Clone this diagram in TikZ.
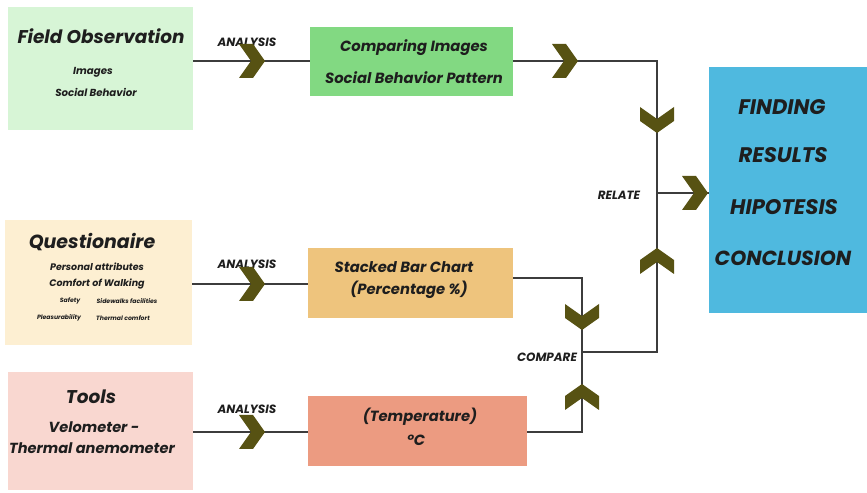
\documentclass[tikz,border=0pt]{standalone}
\usepackage{fontspec}
\setmainfont{Poppins}
\usepackage{xcolor}
\usetikzlibrary{positioning}

\definecolor{fieldgreen}{HTML}{D7F5D6}
\definecolor{compgreen}{HTML}{82D982}
\definecolor{questcream}{HTML}{FDEFD2}
\definecolor{chartorange}{HTML}{EEC47D}
\definecolor{toolpink}{HTML}{F9D7D0}
\definecolor{tempsalmon}{HTML}{EC9B81}
\definecolor{findblue}{HTML}{4FB9DF}
\definecolor{chevcol}{HTML}{575213}
\definecolor{linecol}{HTML}{3C3C3C}
\definecolor{textcol}{HTML}{1E1E1E}

\tikzset{
  chev/.pic={\fill[chevcol] (-26,-17) -- (-12,-17) -- (0,0) -- (-12,17) -- (-26,17) -- (-14,0) -- cycle;}
}

\begin{document}
\begin{tikzpicture}[x=0.02cm, y=-0.02cm,
    box/.style={rectangle, inner sep=0pt},
    txt/.style={inner sep=0pt, text=textcol},
    conn/.style={draw=linecol, line width=1pt}]
\useasboundingbox (0,0) rectangle (867,493);

% boxes
\node[box, fill=fieldgreen, minimum width=3.7cm, minimum height=2.46cm] (fo) at (100.5,68.5) {};
\node[box, fill=questcream, minimum width=3.74cm, minimum height=2.5cm] (qs) at (98.5,282.5) {};
\node[box, fill=toolpink, minimum width=3.7cm, minimum height=2.36cm] (tl) at (100.5,431) {};
\node[box, fill=compgreen, minimum width=4.06cm, minimum height=1.4cm] (cmp) at (411.5,61.5) {};
\node[box, fill=chartorange, minimum width=4.1cm, minimum height=1.42cm] (sbc) at (410.5,283) {};
\node[box, fill=tempsalmon, minimum width=4.38cm, minimum height=1.4cm] (tmp) at (417.5,431) {};
\node[box, fill=findblue, minimum width=3.16cm, minimum height=4.92cm] (fnd) at (788,190) {};

% texts
\node[txt, font=\bfseries\itshape\fontsize{10.5}{12}\selectfont] (fot) at (101,36) {Field Observation};
\node[txt, font=\bfseries\itshape\fontsize{5.8}{8}\selectfont] (foa) at (93,72) {Images};
\node[txt, font=\bfseries\itshape\fontsize{5.8}{8}\selectfont] (fob) at (96,92) {Social Behavior};

\node[txt, font=\bfseries\itshape\fontsize{10.8}{12}\selectfont] (qst) at (92,242) {Questionaire};
\node[txt, font=\bfseries\itshape\fontsize{5.4}{7}\selectfont] (qsa) at (97,267) {Personal attributes};
\node[txt, font=\bfseries\itshape\fontsize{5.4}{7}\selectfont] (qsb) at (97,284) {Comfort of Walking};
\node[txt, font=\bfseries\itshape\fontsize{3.5}{5}\selectfont] (qsc) at (70,301) {Safety};
\node[txt, font=\bfseries\itshape\fontsize{3.5}{5}\selectfont] (qsd) at (127,301) {Sidewalks facilities};
\node[txt, font=\bfseries\itshape\fontsize{3.5}{5}\selectfont] (qse) at (59,318) {Pleasurability};
\node[txt, font=\bfseries\itshape\fontsize{3.5}{5}\selectfont] (qsf) at (123,318) {Thermal comfort};

\node[txt, font=\bfseries\itshape\fontsize{10.5}{13}\selectfont] (tlt) at (91,397) {Tools};
\node[txt, font=\bfseries\itshape\fontsize{8.3}{10}\selectfont] (tla) at (94,427) {Velometer -};
\node[txt, font=\bfseries\itshape\fontsize{8.3}{10}\selectfont] (tlb) at (92,448) {Thermal anemometer};

\node[txt, font=\bfseries\itshape\fontsize{8.4}{10}\selectfont] (cmpa) at (414,48) {Comparing Images};
\node[txt, font=\bfseries\itshape\fontsize{8.4}{10}\selectfont] (cmpb) at (414,78) {Social Behavior Pattern};
\node[txt, font=\bfseries\itshape\fontsize{8.4}{10}\selectfont] (sbca) at (404,267) {Stacked Bar Chart};
\node[txt, font=\bfseries\itshape\fontsize{8.4}{10}\selectfont] (sbcb) at (409,290) {(Percentage \%)};
\node[txt, font=\bfseries\itshape\fontsize{8.4}{10}\selectfont] (tmpa) at (420,417) {(Temperature)};
\node[txt, font=\bfseries\itshape\fontsize{8.4}{10}\selectfont] (tmpb) at (416,440) {°C};

\node[txt, font=\bfseries\itshape\fontsize{12}{13}\selectfont] (fnda) at (782,107) {FINDING};
\node[txt, font=\bfseries\itshape\fontsize{12}{13}\selectfont] (fndb) at (783,155) {RESULTS};
\node[txt, font=\bfseries\itshape\fontsize{12}{13}\selectfont] (fndc) at (784,207) {HIPOTESIS};
\node[txt, font=\bfseries\itshape\fontsize{11.6}{13}\selectfont] (fndd) at (783,258) {CONCLUSION};

\node[txt, font=\bfseries\itshape\fontsize{6.8}{7}\selectfont] (an1) at (247,42) {ANALYSIS};
\node[txt, font=\bfseries\itshape\fontsize{6.8}{7}\selectfont] (an2) at (247,264) {ANALYSIS};
\node[txt, font=\bfseries\itshape\fontsize{6.8}{7}\selectfont] (an3) at (247,409) {ANALYSIS};
\node[txt, font=\bfseries\itshape\fontsize{6.8}{7}\selectfont] (rel) at (619,195) {RELATE};
\node[txt, font=\bfseries\itshape\fontsize{6.8}{7}\selectfont] (cpr) at (547,357) {COMPARE};

% joints
\coordinate (j1) at (657,61);
\coordinate (j2) at (657,352);
\coordinate (jr) at (657,193);
\coordinate (j3) at (582,278);
\coordinate (j4) at (582,432);
\coordinate (jc) at (582,352);

% connectors
\draw[conn] (fo.east |- j1) -- (cmp.west |- j1);
\draw[conn] (cmp.east |- j1) -- (j1) -- (j2) -- (jc);
\draw[conn] (jr) -- (fnd.west |- jr);
\draw[conn] (qs.east |- 0,284) -- (sbc.west |- 0,284);
\draw[conn] (sbc.east |- j3) -- (j3) -- (j4) -- (tmp.east |- j4);
\draw[conn] (tl.east |- j4) -- (tmp.west |- j4);

% chevrons
\pic at (265,61) {chev};
\pic at (578,61) {chev};
\pic[rotate=-90] at (657,133) {chev};
\pic[rotate=90] at (657,248) {chev};
\pic at (708,193) {chev};
\pic at (265,284) {chev};
\pic[rotate=-90] at (582,330) {chev};
\pic[rotate=90] at (582,384) {chev};
\pic at (265,432) {chev};
\end{tikzpicture}
\end{document}
